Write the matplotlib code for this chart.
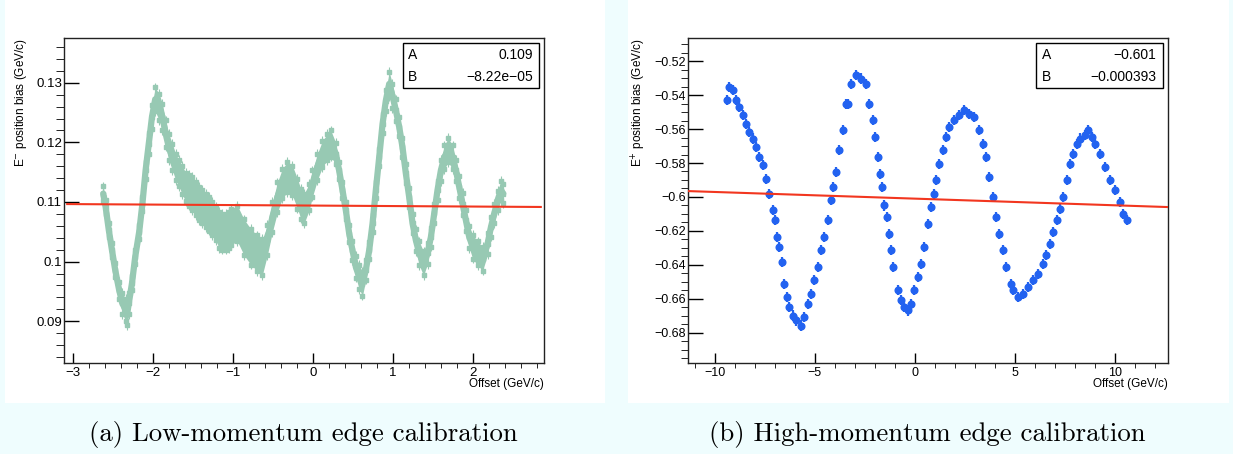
import matplotlib
matplotlib.use("Agg")
import matplotlib.pyplot as plt
from matplotlib.patches import Rectangle
from matplotlib.ticker import MultipleLocator, AutoMinorLocator, FuncFormatter

# --- valores ---
# painel (a): borda de baixo momento
low_x = [-2.62, -2.59, -2.55, -2.51, -2.47, -2.42, -2.38, -2.34, -2.32, -2.30,
         -2.26, -2.22, -2.17, -2.13, -2.09, -2.05, -2.01, -1.97, -1.92, -1.88,
         -1.84, -1.80, -1.757, -1.715, -1.673, -1.632, -1.59, -1.548, -1.506, -1.465,
         -1.423, -1.381, -1.34, -1.298, -1.256, -1.214, -1.173, -1.131, -1.089, -1.048,
         -1.027, -0.943, -0.86, -0.776, -0.693, -0.63, -0.568, -0.505, -0.442, -0.38,
         -0.317, -0.255, -0.192, -0.15, -0.109, -0.046, -0.004, 0.058, 0.121, 0.183,
         0.225, 0.288, 0.329, 0.371, 0.413, 0.455, 0.496, 0.538, 0.58, 0.621,
         0.663, 0.705, 0.747, 0.788, 0.83, 0.872, 0.913, 0.955, 0.996, 1.038,
         1.08, 1.121, 1.163, 1.205, 1.247, 1.288, 1.33, 1.384, 1.434, 1.476,
         1.518, 1.559, 1.601, 1.643, 1.693, 1.747, 1.789, 1.831, 1.872, 1.914,
         1.956, 1.998, 2.06, 2.123, 2.185, 2.227, 2.269, 2.31, 2.352, 2.381]
low_y = [0.1114, 0.1092, 0.1053, 0.1019, 0.0986, 0.0952, 0.0930, 0.0919, 0.0913, 0.0930,
         0.0964, 0.1008, 0.1050, 0.1097, 0.1153, 0.1198, 0.1243, 0.1272, 0.1259, 0.1243,
         0.1215, 0.1192, 0.1176, 0.1159, 0.1148, 0.1137, 0.1125, 0.1120, 0.1114, 0.1106,
         0.1097, 0.1092, 0.1086, 0.1080, 0.1072, 0.1064, 0.1053, 0.1050, 0.1050, 0.1053,
         0.1058, 0.1064, 0.1041, 0.1025, 0.1014, 0.1008, 0.1036, 0.1075, 0.1108, 0.1131,
         0.1142, 0.1136, 0.1114, 0.1097, 0.1089, 0.1108, 0.1131, 0.1159, 0.1181, 0.1192,
         0.1198, 0.1181, 0.1153, 0.1120, 0.1086, 0.1047, 0.1019, 0.0991, 0.0974, 0.0963,
         0.0986, 0.1019, 0.1064, 0.1120, 0.1175, 0.1231, 0.1270, 0.1298, 0.1278, 0.1254,
         0.1226, 0.1192, 0.1148, 0.1108, 0.1064, 0.1036, 0.1014, 0.0997, 0.1014, 0.1041,
         0.1081, 0.1120, 0.1153, 0.1175, 0.1187, 0.1175, 0.1153, 0.1125, 0.1097, 0.1069,
         0.1041, 0.1025, 0.1014, 0.1005, 0.1030, 0.1058, 0.1081, 0.1103, 0.1120, 0.1114]
# meia largura da faixa de pontos
low_spread = [0.0012, 0.0012, 0.0012, 0.0012, 0.0012, 0.0014, 0.0018, 0.0018, 0.0020, 0.0018,
              0.0012, 0.0012, 0.0012, 0.0012, 0.0014, 0.0018, 0.0020, 0.0020, 0.0022, 0.0022,
              0.0022, 0.0022, 0.0022, 0.0022, 0.0022, 0.0024, 0.0024, 0.0026, 0.0028, 0.0028,
              0.0028, 0.0028, 0.0028, 0.0028, 0.0028, 0.0028, 0.0030, 0.0030, 0.0030, 0.0030,
              0.0030, 0.0030, 0.0030, 0.0030, 0.0030, 0.0030, 0.0025, 0.0025, 0.0025, 0.0025,
              0.0025, 0.0025, 0.0025, 0.0025, 0.0025, 0.0022, 0.0022, 0.0022, 0.0022, 0.0022,
              0.0022, 0.0018, 0.0014, 0.0014, 0.0014, 0.0014, 0.0016, 0.0018, 0.0020, 0.0020,
              0.0016, 0.0014, 0.0014, 0.0014, 0.0014, 0.0016, 0.0018, 0.0020, 0.0020, 0.0018,
              0.0016, 0.0016, 0.0016, 0.0016, 0.0016, 0.0018, 0.0020, 0.0020, 0.0018, 0.0016,
              0.0016, 0.0016, 0.0018, 0.0020, 0.0020, 0.0020, 0.0018, 0.0018, 0.0018, 0.0018,
              0.0018, 0.0020, 0.0020, 0.0020, 0.0018, 0.0016, 0.0016, 0.0016, 0.0016, 0.0016]
low_A = 0.1094
low_B = -8.22e-05
low_A_txt = "0.109"
low_B_txt = "\u22128.22e\u221205"

# painel (b): borda de alto momento
high_x = [-9.38, -9.27, -9.10, -8.93, -8.77, -8.60, -8.43, -8.27, -8.10, -7.93,
          -7.77, -7.60, -7.43, -7.27, -7.10, -6.98, -6.88, -6.77, -6.63, -6.52,
          -6.38, -6.27, -6.10, -5.93, -5.68, -5.52, -5.35, -5.18, -5.02, -4.85,
          -4.68, -4.52, -4.35, -4.18, -4.10, -3.93, -3.77, -3.60, -3.43, -3.35,
          -3.18, -2.93, -2.68, -2.43, -2.27, -2.10, -1.98, -1.85, -1.73, -1.63,
          -1.52, -1.40, -1.30, -1.18, -1.07, -0.85, -0.68, -0.52, -0.35, -0.18,
          -0.02, 0.15, 0.32, 0.48, 0.65, 0.82, 0.95, 1.07, 1.23, 1.40,
          1.57, 1.73, 1.98, 2.23, 2.48, 2.73, 2.98, 3.23, 3.40, 3.57,
          3.73, 3.90, 4.07, 4.23, 4.40, 4.57, 4.82, 4.92, 5.17, 5.42,
          5.67, 5.92, 6.17, 6.42, 6.58, 6.75, 6.92, 7.08, 7.25, 7.42,
          7.58, 7.75, 7.92, 8.08, 8.25, 8.50, 8.67, 8.83, 9.00, 9.25,
          9.50, 9.75, 10.00, 10.25, 10.42, 10.58]
high_y = [-0.5430, -0.5351, -0.5371, -0.5430, -0.5469, -0.5519, -0.5568, -0.5617, -0.5656, -0.5705,
          -0.5764, -0.5814, -0.5892, -0.5981, -0.6079, -0.6138, -0.6236, -0.6295, -0.6384, -0.6512,
          -0.6590, -0.6649, -0.6699, -0.6728, -0.6758, -0.6708, -0.6630, -0.6571, -0.6492, -0.6413,
          -0.6315, -0.6236, -0.6138, -0.6020, -0.5941, -0.5853, -0.5725, -0.5607, -0.5450, -0.5450,
          -0.5332, -0.5283, -0.5302, -0.5332, -0.5450, -0.5548, -0.5646, -0.5764, -0.5863, -0.5941,
          -0.6050, -0.6118, -0.6217, -0.6315, -0.6413, -0.6551, -0.6610, -0.6649, -0.6669, -0.6630,
          -0.6551, -0.6472, -0.6394, -0.6295, -0.6158, -0.6060, -0.5981, -0.5902, -0.5804, -0.5725,
          -0.5646, -0.5587, -0.5548, -0.5519, -0.5489, -0.5509, -0.5528, -0.5607, -0.5686, -0.5764,
          -0.5882, -0.6000, -0.6118, -0.6217, -0.6315, -0.6413, -0.6512, -0.6551, -0.6590, -0.6571,
          -0.6531, -0.6492, -0.6453, -0.6394, -0.6344, -0.6276, -0.6207, -0.6138, -0.6069, -0.6000,
          -0.5902, -0.5804, -0.5745, -0.5686, -0.5656, -0.5637, -0.5607, -0.5646, -0.5686, -0.5745,
          -0.5824, -0.5902, -0.5961, -0.6030, -0.6099, -0.6138]
high_err = 0.0030
high_A = -0.601
high_B = -0.000393
high_A_txt = "\u22120.601"
high_B_txt = "\u22120.000393"

verde = "#97c9b3"
azul = "#2262f0"
vermelho = "#f2361f"
fundo = "#effdfe"


def rotulo(v, pos):
    return ("%g" % (round(v, 6) + 0.0)).replace("-", "\u2212")


def ajusta_eixo(ax, xlim, ylim, xmaj, ymaj, ymin_n, ylen, fs):
    ax.set_xlim(xlim)
    ax.set_ylim(ylim)
    ax.xaxis.set_major_locator(MultipleLocator(xmaj))
    ax.xaxis.set_minor_locator(AutoMinorLocator(5))
    ax.yaxis.set_major_locator(MultipleLocator(ymaj))
    ax.yaxis.set_minor_locator(AutoMinorLocator(ymin_n))
    ax.xaxis.set_major_formatter(FuncFormatter(rotulo))
    ax.yaxis.set_major_formatter(FuncFormatter(rotulo))
    ax.tick_params(direction="in", top=False, right=False, labelsize=fs, width=1, colors="black")
    ax.tick_params(axis="x", which="major", length=7, pad=3)
    ax.tick_params(axis="x", which="minor", length=3.5)
    ax.tick_params(axis="y", which="major", length=ylen, pad=1.5)
    ax.tick_params(axis="y", which="minor", length=ylen / 2)
    for s in ax.spines.values():
        s.set_linewidth(1)
        s.set_color("#222222")
    ax.set_xlabel("Offset (GeV/c)", fontsize=8.5, loc="right")
    ax.xaxis.set_label_coords(1.0, -0.045)


def caixa(ax, x0, xtxt, xval, a_txt, b_txt):
    ax.add_patch(Rectangle((x0, 0.846), 0.99 - x0, 0.139, transform=ax.transAxes,
                           facecolor="white", edgecolor="black", lw=1, zorder=6))
    ax.text(xtxt, 0.948, "A", transform=ax.transAxes, fontsize=10, va="center", zorder=7)
    ax.text(xtxt, 0.880, "B", transform=ax.transAxes, fontsize=10, va="center", zorder=7)
    ax.text(xval, 0.948, a_txt, transform=ax.transAxes, fontsize=10, va="center", ha="right", zorder=7)
    ax.text(xval, 0.880, b_txt, transform=ax.transAxes, fontsize=10, va="center", ha="right", zorder=7)


plt.rcParams["font.family"] = ["Liberation Sans", "DejaVu Sans"]

fig = plt.figure(figsize=(12.33, 4.54), dpi=100, facecolor=fundo)
# fundos brancos dos dois paineis (atras dos eixos)
fig.patches.append(Rectangle((5 / 1233, 1 - 403 / 454), 600 / 1233, 403 / 454,
                             transform=fig.transFigure, facecolor="white", edgecolor="none", zorder=-10))
fig.patches.append(Rectangle((628 / 1233, 1 - 403 / 454), 601 / 1233, 403 / 454,
                             transform=fig.transFigure, facecolor="white", edgecolor="none", zorder=-10))

ax1 = fig.add_axes([64 / 1233, 1 - 363 / 454, 480 / 1233, 325 / 454])
ax2 = fig.add_axes([688 / 1233, 1 - 363 / 454, 480 / 1233, 325 / 454])

# (a) baixo momento
lo = [y - s for y, s in zip(low_y, low_spread)]
hi = [y + s for y, s in zip(low_y, low_spread)]
ax1.fill_between(low_x, lo, hi, color=verde, lw=0, zorder=2)
ax1.plot(low_x, low_y, color=verde, lw=4.5, solid_capstyle="round", zorder=2)
ax1.errorbar(low_x, low_y, yerr=0.0009, fmt="s", ms=2.5, color=verde, elinewidth=0.8, capsize=0, zorder=3)
ax1.errorbar(low_x, lo, yerr=0.0008, fmt="s", ms=2.2, color=verde, elinewidth=0.8, capsize=0, zorder=3)
ax1.errorbar(low_x, hi, yerr=0.0008, fmt="s", ms=2.2, color=verde, elinewidth=0.8, capsize=0, zorder=3)
ajusta_eixo(ax1, (-3.11, 2.89), (0.0830, 0.1375), 1, 0.01, 5, 11, 9.5)
xl = ax1.get_xlim()
ax1.plot([xl[0] + 0.04, xl[1] - 0.04], [low_A + low_B * (xl[0] + 0.04), low_A + low_B * (xl[1] - 0.04)],
         color=vermelho, lw=1.5, zorder=4)
ax1.set_ylabel("E$^{-}$ position bias (GeV/c)", fontsize=8.5, loc="top")
ax1.yaxis.set_label_coords(-0.072, 1.0)
caixa(ax1, 0.706, 0.717, 0.977, low_A_txt, low_B_txt)

# (b) alto momento
ax2.errorbar(high_x, high_y, yerr=high_err, fmt="o", ms=4.8, color=azul, elinewidth=1.6, capsize=0, zorder=3)
ajusta_eixo(ax2, (-11.33, 12.65), (-0.6979, -0.5063), 5, 0.02, 4, 10.5, 9)
xl = ax2.get_xlim()
ax2.plot([xl[0], xl[1]], [high_A + high_B * xl[0], high_A + high_B * xl[1]],
         color=vermelho, lw=1.5, zorder=4)
ax2.set_ylabel("E$^{+}$ position bias (GeV/c)", fontsize=8.5, loc="top")
ax2.yaxis.set_label_coords(-0.083, 1.0)
caixa(ax2, 0.725, 0.737, 0.976, high_A_txt, high_B_txt)

# legendas abaixo
fig.text(303 / 1233, 1 - 435 / 454, "(a) Low-momentum edge calibration", family="cmr10",
         fontsize=19.3, ha="center", va="center")
fig.text(927 / 1233, 1 - 435 / 454, "(b) High-momentum edge calibration", family="cmr10",
         fontsize=19.3, ha="center", va="center")

fig.savefig("out.png", dpi=100, facecolor=fundo)
